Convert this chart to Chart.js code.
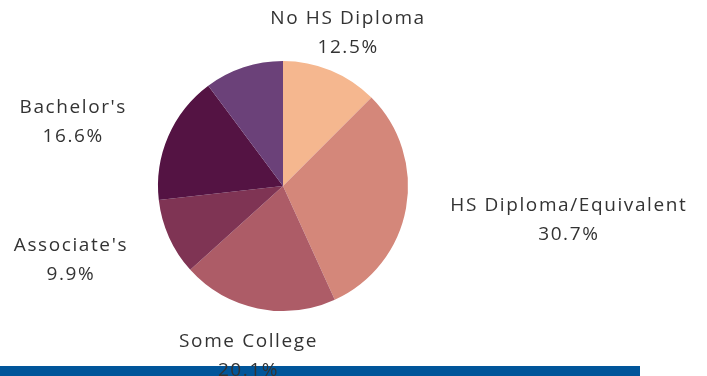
<!DOCTYPE html>
<html>
<head>
<meta charset="utf-8">
<script src="https://cdn.jsdelivr.net/npm/chart.js@4"></script>
<style>
  html, body { margin: 0; padding: 0; background: #fff; }
  #wrap { position: relative; width: 707px; height: 376px; overflow: hidden; }
  #bar { position: absolute; left: 0; top: 366px; width: 640px; height: 10px; background: #00559a; }
  #eduChart { position: absolute; left: 0; top: 0; }
</style>
</head>
<body>
<div id="wrap">
  <div id="bar"></div>
  <canvas id="eduChart" width="707" height="376"></canvas>
</div>
<script>
// education attainment shares
const categories = ["No HS Diploma", "HS Diploma/Equivalent", "Some College", "Associate's", "Bachelor's", "Graduate/Professional"];
const shares = [12.5, 30.7, 20.1, 9.9, 16.6, 10.2];
const sliceColors = ["#f5b78f", "#d4877a", "#ad5c67", "#7f3454", "#541343", "#6b4179"];
const showLabel = [true, true, true, true, true, false]; // last slice has no label in the original

// outside labels: name on first line, percent on second
const outsideLabels = {
  id: "outsideLabels",
  afterDatasetsDraw(chart) {
    const ctx = chart.ctx;
    const meta = chart.getDatasetMeta(0);
    ctx.save();
    ctx.font = "19px 'Open Sans'";
    ctx.letterSpacing = "1.6px";
    ctx.fillStyle = "#333";
    ctx.textBaseline = "middle";
    meta.data.forEach((arc, i) => {
      if (!showLabel[i]) return;
      const p = arc.getProps(["x", "y", "startAngle", "endAngle", "outerRadius"], true);
      const mid = (p.startAngle + p.endAngle) / 2;
      const r = p.outerRadius + 45;
      const x = p.x + Math.cos(mid) * r;
      const y = p.y + Math.sin(mid) * r + 4;
      const lines = [categories[i], shares[i].toFixed(1) + "%"];
      const widths = lines.map(l => ctx.measureText(l).width);
      const w = Math.max(...widths);
      let cx = x;
      if (Math.cos(mid) > 0.5) cx = x + w / 2;
      else if (Math.cos(mid) < -0.5) cx = x - w / 2;
      ctx.textAlign = "center";
      ctx.fillText(lines[0], cx, y - 14.5);
      ctx.fillText(lines[1], cx, y + 14.5);
    });
    ctx.restore();
  }
};

new Chart(document.getElementById("eduChart").getContext("2d"), {
  type: "pie",
  data: {
    labels: categories,
    datasets: [{
      data: shares,
      backgroundColor: sliceColors,
      borderWidth: 0
    }]
  },
  options: {
    responsive: false,
    animation: false,
    layout: { padding: { left: 158, right: 299, top: 61, bottom: 65 } },
    plugins: {
      legend: { display: false },
      tooltip: { enabled: false }
    }
  },
  plugins: [outsideLabels]
});
</script>
</body>
</html>
